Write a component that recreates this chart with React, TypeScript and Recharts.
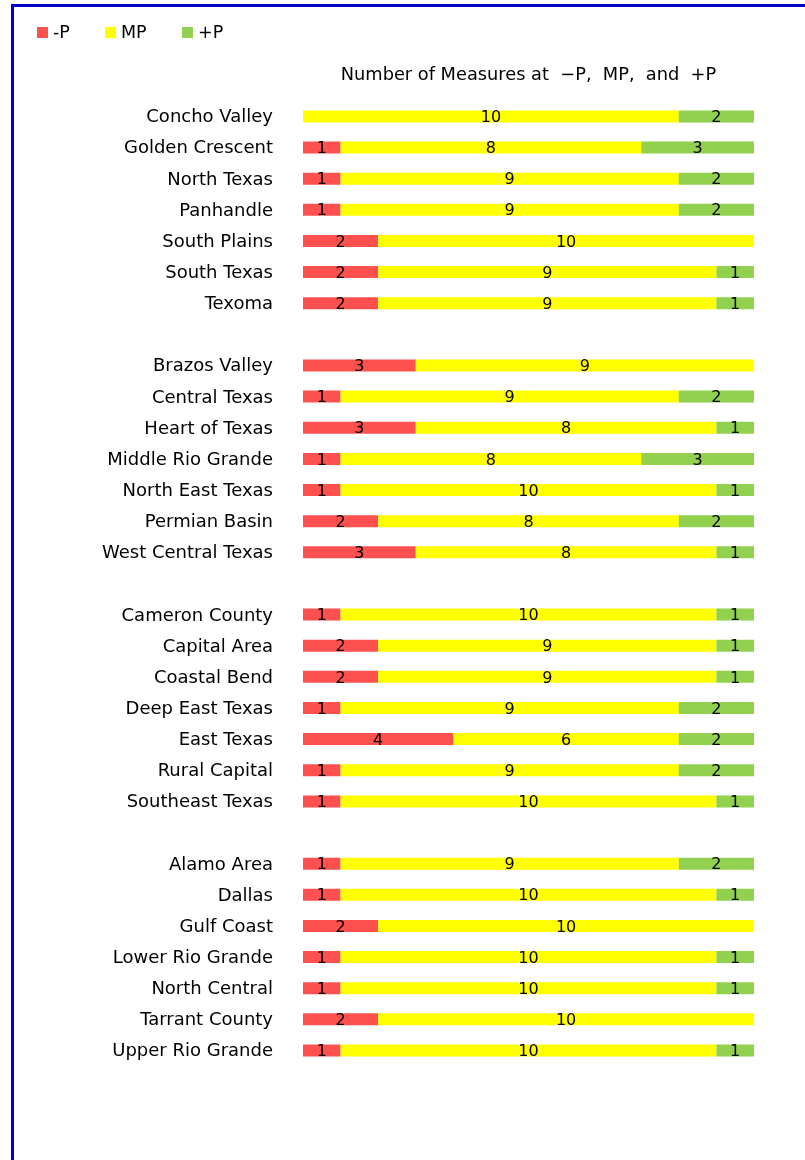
import React from "react";
import { BarChart, Bar, XAxis, YAxis, Legend, LabelList, Label } from "recharts";

const regions = [
  "Concho Valley", "Golden Crescent", "North Texas", "Panhandle", "South Plains", "South Texas", "Texoma",
  " ",
  "Brazos Valley", "Central Texas", "Heart of Texas", "Middle Rio Grande", "North East Texas", "Permian Basin", "West Central Texas",
  "  ",
  "Cameron County", "Capital Area", "Coastal Bend", "Deep East Texas", "East Texas", "Rural Capital", "Southeast Texas",
  "   ",
  "Alamo Area", "Dallas", "Gulf Coast", "Lower Rio Grande", "North Central", "Tarrant County", "Upper Rio Grande",
];

const minusP = [0, 1, 1, 1, 2, 2, 2, null, 3, 1, 3, 1, 1, 2, 3, null, 1, 2, 2, 1, 4, 1, 1, null, 1, 1, 2, 1, 1, 2, 1];
const mp = [10, 8, 9, 9, 10, 9, 9, null, 9, 9, 8, 8, 10, 8, 8, null, 10, 9, 9, 9, 6, 9, 10, null, 9, 10, 10, 10, 10, 10, 10];
const plusP = [2, 3, 2, 2, 0, 1, 1, null, 0, 2, 1, 3, 1, 2, 1, null, 1, 1, 1, 2, 2, 2, 1, null, 2, 1, 0, 1, 1, 0, 1];

const seriesNames = ["-P", "MP", "+P"];
const colors = ["#FF5050", "#FFFF00", "#92D050"];
const title = "Number of Measures at\u00a0 \u2212P,\u00a0 MP,\u00a0 and\u00a0 +P";

const data = regions.map((name, i) => ({
  name,
  minus: minusP[i],
  mp: mp[i],
  plus: plusP[i],
}));

const FONT = "'DejaVu Sans', sans-serif";

const fmt = (v: any) => (v ? String(v) : "");

const renderLegend = () => {
  const widths = [68, 77, 60];
  return (
    <div style={{ display: "flex", fontFamily: FONT, fontSize: 17.5, color: "#000", lineHeight: "20px" }}>
      {seriesNames.map((n, i) => (
        <div key={n} style={{ width: widths[i], display: "flex", alignItems: "center" }}>
          <span style={{ display: "inline-block", width: 11, height: 11, background: colors[i], marginRight: 5 }} />
          <span>{n}</span>
        </div>
      ))}
    </div>
  );
};

export default function App() {
  return (
    <div>
      <div
        style={{
          position: "fixed",
          left: 11,
          top: 4,
          width: 830,
          height: 1220,
          border: "3px solid #0000CC",
          boxSizing: "border-box",
          pointerEvents: "none",
        }}
      />
      <BarChart
        width={790}
        height={1100}
        data={data}
        layout="vertical"
        margin={{ top: 52.4, right: 44, bottom: 42.4, left: 5 }}
        barSize={12}
      >
        <XAxis
          type="number"
          domain={[0, 12]}
          orientation="top"
          height={40}
          tick={false}
          axisLine={false}
          tickLine={false}
        >
          <Label value={title} position="center" dy={-7} style={{ fontFamily: FONT, fontSize: 17.8, fill: "#000" }} />
        </XAxis>
        <YAxis
          type="category"
          dataKey="name"
          width={290}
          axisLine={false}
          tickLine={false}
          tickSize={0}
          tickMargin={30}
          interval={0}
          tick={{ fontFamily: FONT, fontSize: 18, fill: "#000" }}
        />
        <Legend
          verticalAlign="middle"
          align="center"
          content={renderLegend}
          wrapperStyle={{ position: "absolute", top: 14, left: 29, width: 300 }}
        />
        <Bar dataKey="minus" name={seriesNames[0]} stackId="a" fill={colors[0]} isAnimationActive={false}>
          <LabelList dataKey="minus" position="center" formatter={fmt} style={{ fontFamily: FONT, fontSize: 16, fill: "#000" }} />
        </Bar>
        <Bar dataKey="mp" name={seriesNames[1]} stackId="a" fill={colors[1]} isAnimationActive={false}>
          <LabelList dataKey="mp" position="center" formatter={fmt} style={{ fontFamily: FONT, fontSize: 16, fill: "#000" }} />
        </Bar>
        <Bar dataKey="plus" name={seriesNames[2]} stackId="a" fill={colors[2]} isAnimationActive={false}>
          <LabelList dataKey="plus" position="center" formatter={fmt} style={{ fontFamily: FONT, fontSize: 16, fill: "#000" }} />
        </Bar>
      </BarChart>
    </div>
  );
}
